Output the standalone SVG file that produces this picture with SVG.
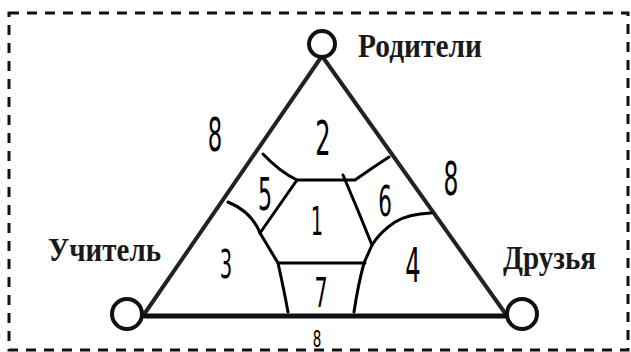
<svg xmlns="http://www.w3.org/2000/svg" width="631" height="352" viewBox="0 0 631 352">
<style>
.frame{fill:none;stroke:#111;stroke-width:3;stroke-dasharray:10 8}
.node{fill:#fff;stroke:#111;stroke-width:4}
.edge{fill:none;stroke:#222;stroke-width:4;stroke-linecap:round}
.base{fill:none;stroke:#111;stroke-width:5}
.part{fill:none;stroke:#000;stroke-width:3;stroke-linejoin:round;stroke-linecap:round}
.lbl{font-family:"Liberation Serif",serif;font-weight:bold;font-size:31px;fill:#1a1a1a}
.num{font-family:"DejaVu Sans",sans-serif;font-weight:normal;fill:#000;text-anchor:middle}
</style>
<rect class="frame" x="9" y="13" width="619" height="337"/>
<g id="connectors">
<path class="edge" d="M322 56 L145 313"/>
<path class="edge" d="M322 56 L505 313"/>
<path class="base" d="M140 316 L508 316"/>
</g>
<g id="parts">
<path class="part" d="M263 154 Q280 172 297 180 L355 180 Q372 168 389 157"/>
<path class="part" d="M297 180 L260 233"/>
<path class="part" d="M228 202 Q252 212 260 233 L278 263 L365 263"/>
<path class="part" d="M343 175 Q358 210 372 245"/>
<path class="part" d="M431 213 Q408 214 395 222 Q380 232 372 245 L364 263 Q358 285 354 312"/>
<path class="part" d="M278 263 Q284 290 288 312"/>
</g>
<g id="n-roditeli">
<circle class="node" cx="322" cy="44" r="13"/>
<text class="lbl" transform="translate(358 57) scale(1 1.1)" textLength="124" lengthAdjust="spacingAndGlyphs">Родители</text>
</g>
<g id="n-uchitel">
<circle class="node" cx="127" cy="314" r="15"/>
<text class="lbl" transform="translate(48 261) scale(1 1.1)" textLength="113" lengthAdjust="spacingAndGlyphs">Учитель</text>
</g>
<g id="n-druzya">
<circle class="node" cx="522" cy="314" r="15"/>
<text class="lbl" transform="translate(503 269) scale(1 1.1)" textLength="93" lengthAdjust="spacingAndGlyphs">Друзья</text>
</g>
<g id="numbers" class="num">
<text transform="translate(323 155) scale(0.65 1.3)" font-size="37">2</text>
<text transform="translate(265 210) scale(0.65 1.3)" font-size="34">5</text>
<text transform="translate(385 216) scale(0.65 1.3)" font-size="33">6</text>
<text transform="translate(317 235) scale(0.65 1.3)" font-size="30">1</text>
<text transform="translate(226 278) scale(0.65 1.3)" font-size="30">3</text>
<text transform="translate(413 282) scale(0.65 1.3)" font-size="37">4</text>
<text transform="translate(321 307) scale(0.65 1.3)" font-size="32">7</text>
<text transform="translate(215 151) scale(0.65 1.3)" font-size="35">8</text>
<text transform="translate(451 195) scale(0.65 1.3)" font-size="36">8</text>
<text transform="translate(317 347) scale(0.75 1.3)" font-size="18">8</text>
</g>
</svg>
